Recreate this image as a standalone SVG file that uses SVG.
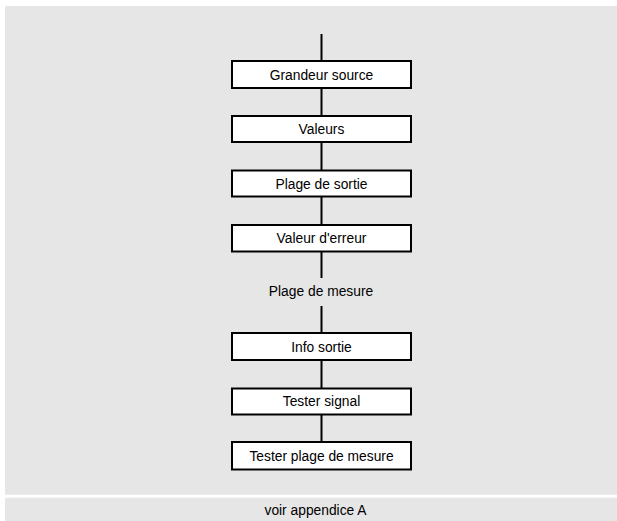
<svg xmlns="http://www.w3.org/2000/svg" width="617" height="521" viewBox="0 0 617 521">
<style>
.bg{fill:#e6e6e6}
.box{fill:#ffffff;stroke:#000000;stroke-width:2}
.lbl{font-family:"Liberation Sans",Arial,sans-serif;font-size:13.8px;fill:#000000;text-anchor:middle}
.conn{stroke:#000000;stroke-width:2;fill:none}
</style>
<rect width="617" height="521" fill="#ffffff"/>
<rect class="bg" x="5" y="6" width="612" height="488.7"/>
<rect class="bg" x="5" y="497.7" width="612" height="23.3"/>
<g id="connectors">
<line class="conn" x1="321.5" y1="34" x2="321.5" y2="61"/>
<line class="conn" x1="321.5" y1="88" x2="321.5" y2="116"/>
<line class="conn" x1="321.5" y1="142" x2="321.5" y2="170.5"/>
<line class="conn" x1="321.5" y1="196.5" x2="321.5" y2="225"/>
<line class="conn" x1="321.5" y1="251" x2="321.5" y2="278"/>
<line class="conn" x1="321.5" y1="306" x2="321.5" y2="333"/>
<line class="conn" x1="321.5" y1="360" x2="321.5" y2="388.5"/>
<line class="conn" x1="321.5" y1="414.5" x2="321.5" y2="442"/>
</g>
<g id="n1"><rect class="box" x="232" y="61" width="179" height="27"/><text class="lbl" x="321.5" y="79.5">Grandeur source</text></g>
<g id="n2"><rect class="box" x="232" y="116" width="179" height="26"/><text class="lbl" x="321.5" y="134">Valeurs</text></g>
<g id="n3"><rect class="box" x="232" y="170.5" width="179" height="26"/><text class="lbl" x="321.5" y="188.5">Plage de sortie</text></g>
<g id="n4"><rect class="box" x="232" y="225" width="179" height="26.5"/><text class="lbl" x="321.5" y="243.3">Valeur d'erreur</text></g>
<g id="n5"><text class="lbl" x="321" y="296">Plage de mesure</text></g>
<g id="n6"><rect class="box" x="232" y="333" width="179" height="27"/><text class="lbl" x="321.5" y="351.5">Info sortie</text></g>
<g id="n7"><rect class="box" x="232" y="388.5" width="179" height="26"/><text class="lbl" x="321.5" y="406.3">Tester signal</text></g>
<g id="n8"><rect class="box" x="232" y="442" width="179" height="27.5"/><text class="lbl" x="321.5" y="460.5">Tester plage de mesure</text></g>
<g id="footer"><text class="lbl" x="315.5" y="514.5">voir appendice A</text></g>
</svg>
